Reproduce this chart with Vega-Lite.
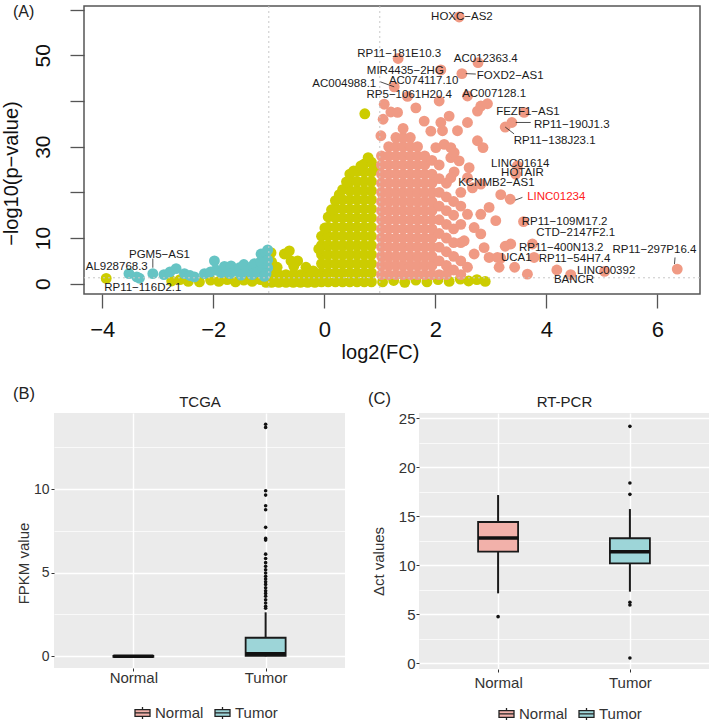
{
  "$schema": "https://vega.github.io/schema/vega-lite/v6.json",
  "padding": {"left": 0, "top": 2, "right": 0, "bottom": 0},
  "background": "white",
  "config": {
    "view": {"stroke": null},
    "font": "Liberation Sans",
    "title": {"font": "Liberation Sans", "fontWeight": "normal"},
    "axis": {"labelFont": "Liberation Sans", "titleFont": "Liberation Sans", "titleFontWeight": "normal"},
    "legend": {"labelFont": "Liberation Sans"}
  },
  "datasets": {
    "ns": [
      {"x":-0.05,"y":0.4},{"x":-0.05,"y":2.4},{"x":-0.05,"y":4.4},{"x":-0.05,"y":6.4},{"x":-0.05,"y":8.4},{"x":-0.05,"y":10.4},
      {"x":0.07,"y":0.4},{"x":0.07,"y":2.4},{"x":0.07,"y":4.4},{"x":0.07,"y":6.4},{"x":0.07,"y":8.4},{"x":0.07,"y":10.4},{"x":0.07,"y":12.4},{"x":0.07,"y":14.6},
      {"x":0.2,"y":0.4},{"x":0.2,"y":2.4},{"x":0.2,"y":4.4},{"x":0.2,"y":6.4},{"x":0.2,"y":8.4},{"x":0.2,"y":10.4},{"x":0.2,"y":12.4},{"x":0.2,"y":14.4},{"x":0.2,"y":16.4},{"x":0.2,"y":18.2},
      {"x":0.33,"y":0.4},{"x":0.33,"y":2.4},{"x":0.33,"y":4.4},{"x":0.33,"y":6.4},{"x":0.33,"y":8.4},{"x":0.33,"y":10.4},{"x":0.33,"y":12.4},{"x":0.33,"y":14.4},{"x":0.33,"y":16.4},{"x":0.33,"y":18.4},{"x":0.33,"y":20.6},
      {"x":0.46,"y":0.4},{"x":0.46,"y":2.4},{"x":0.46,"y":4.4},{"x":0.46,"y":6.4},{"x":0.46,"y":8.4},{"x":0.46,"y":10.4},{"x":0.46,"y":12.4},{"x":0.46,"y":14.4},{"x":0.46,"y":16.4},{"x":0.46,"y":18.4},{"x":0.46,"y":20.4},{"x":0.46,"y":22.4},{"x":0.46,"y":24},
      {"x":0.59,"y":0.4},{"x":0.59,"y":2.4},{"x":0.59,"y":4.4},{"x":0.59,"y":6.4},{"x":0.59,"y":8.4},{"x":0.59,"y":10.4},{"x":0.59,"y":12.4},{"x":0.59,"y":14.4},{"x":0.59,"y":16.4},{"x":0.59,"y":18.4},{"x":0.59,"y":20.4},{"x":0.59,"y":22.4},{"x":0.59,"y":24.6},
      {"x":0.72,"y":0.4},{"x":0.72,"y":2.4},{"x":0.72,"y":4.4},{"x":0.72,"y":6.4},{"x":0.72,"y":8.4},{"x":0.72,"y":10.4},{"x":0.72,"y":12.4},{"x":0.72,"y":14.4},{"x":0.72,"y":16.4},{"x":0.72,"y":18.4},{"x":0.72,"y":20.4},{"x":0.72,"y":22.4},{"x":0.72,"y":24.4},{"x":0.72,"y":26.2},
      {"x":0.85,"y":0.4},{"x":0.85,"y":2.4},{"x":0.85,"y":4.4},{"x":0.85,"y":6.4},{"x":0.85,"y":8.4},{"x":0.85,"y":10.4},{"x":0.85,"y":12.4},{"x":0.85,"y":14.4},{"x":0.85,"y":16.4},{"x":0.85,"y":18.4},{"x":0.85,"y":20.4},{"x":0.85,"y":22.4},{"x":0.85,"y":24.4},{"x":0.85,"y":26.6},
      {"x":-0.1,"y":7.6},{"x":0.01,"y":12.2},{"x":0.13,"y":16.2},{"x":0.27,"y":19.5},{"x":0.4,"y":22.3},{"x":0.53,"y":24.7},{"x":0.66,"y":25.8},{"x":0.79,"y":27.6},{"x":0.9,"y":25.2},
      {"x":0.73,"y":37.2},
      {"x":-0.95,"y":0.3},{"x":-0.82,"y":0.3},{"x":-0.69,"y":0.3},{"x":-0.56,"y":0.3},{"x":-0.43,"y":0.3},{"x":-0.3,"y":0.3},{"x":-0.17,"y":0.3},
      {"x":-0.95,"y":2.0},{"x":-0.82,"y":2.0},{"x":-0.69,"y":2.0},{"x":-0.56,"y":2.0},{"x":-0.43,"y":2.0},{"x":-0.3,"y":2.0},{"x":-0.17,"y":2.0},
      {"x":-0.96,"y":6.8},{"x":-0.95,"y":4.8},{"x":-0.72,"y":6.5},{"x":-0.63,"y":7.2},{"x":-0.6,"y":5.0},{"x":-0.48,"y":5.0},{"x":-0.55,"y":3.8},{"x":-0.33,"y":3.6},{"x":-0.2,"y":2.8},{"x":-0.85,"y":3.6},
      {"x":-3.93,"y":1.16},{"x":-2.75,"y":0.6},{"x":-2.6,"y":0.9},{"x":-2.45,"y":0.5},{"x":-2.25,"y":0.4},{"x":-2.05,"y":0.8},{"x":-1.9,"y":0.5},{"x":-1.75,"y":0.9},{"x":-1.6,"y":0.4},{"x":-1.45,"y":0.8},{"x":-1.3,"y":0.5},{"x":-1.15,"y":0.9},{"x":-1.05,"y":0.3},
      {"x":1.05,"y":0.4},{"x":1.25,"y":0.7},{"x":1.45,"y":0.3},{"x":1.65,"y":0.8},{"x":1.85,"y":0.4},{"x":2.05,"y":0.9},{"x":2.25,"y":0.5},{"x":2.45,"y":1.0},{"x":2.6,"y":0.6},{"x":2.75,"y":0.9},{"x":2.9,"y":0.5}
    ],
    "down": [
      {"x":-3.52,"y":2.2},{"x":-3.38,"y":1.5},{"x":-3.33,"y":1.2},{"x":-3.09,"y":2.2},{"x":-2.89,"y":2.0},{"x":-2.78,"y":2.6},{"x":-2.67,"y":3.3},{"x":-2.52,"y":2.2},{"x":-2.42,"y":1.8},{"x":-2.34,"y":1.5},{"x":-2.16,"y":2.2},{"x":-2.05,"y":2.6},{"x":-1.98,"y":5.0},{"x":-1.95,"y":3.0},{"x":-1.86,"y":2.4},{"x":-1.8,"y":3.8},{"x":-1.68,"y":3.9},{"x":-1.7,"y":2.2},{"x":-1.6,"y":2.8},{"x":-1.53,"y":3.5},{"x":-1.5,"y":1.9},{"x":-1.45,"y":4.2},{"x":-1.38,"y":2.8},{"x":-1.3,"y":2.0},{"x":-1.3,"y":3.8},{"x":-1.26,"y":4.4},{"x":-1.2,"y":2.6},{"x":-1.14,"y":6.5},{"x":-1.15,"y":4.8},{"x":-1.1,"y":3.2},{"x":-1.05,"y":6.8},{"x":-1.02,"y":3.5},{"x":-1.05,"y":2.2},{"x":-1.02,"y":5.2},{"x":-1.02,"y":7.4},{"x":-1.08,"y":1.6}
    ],
    "up": [
      {"x":1.03,"y":2},{"x":1.03,"y":4},{"x":1.03,"y":6},{"x":1.03,"y":8},{"x":1.03,"y":10},{"x":1.03,"y":12},{"x":1.03,"y":14},{"x":1.03,"y":16},{"x":1.03,"y":18},{"x":1.03,"y":20},{"x":1.03,"y":22},{"x":1.03,"y":24},{"x":1.03,"y":26},{"x":1.03,"y":28},
      {"x":1.16,"y":2},{"x":1.16,"y":4},{"x":1.16,"y":6},{"x":1.16,"y":8},{"x":1.16,"y":10},{"x":1.16,"y":12},{"x":1.16,"y":14},{"x":1.16,"y":16},{"x":1.16,"y":18},{"x":1.16,"y":20},{"x":1.16,"y":22},{"x":1.16,"y":24},{"x":1.16,"y":26},{"x":1.16,"y":28},{"x":1.16,"y":30},
      {"x":1.29,"y":2},{"x":1.29,"y":4},{"x":1.29,"y":6},{"x":1.29,"y":8},{"x":1.29,"y":10},{"x":1.29,"y":12},{"x":1.29,"y":14},{"x":1.29,"y":16},{"x":1.29,"y":18},{"x":1.29,"y":20},{"x":1.29,"y":22},{"x":1.29,"y":24},{"x":1.29,"y":26},{"x":1.29,"y":28},{"x":1.29,"y":30},{"x":1.29,"y":32},
      {"x":1.42,"y":2},{"x":1.42,"y":4},{"x":1.42,"y":6},{"x":1.42,"y":8},{"x":1.42,"y":10},{"x":1.42,"y":12},{"x":1.42,"y":14},{"x":1.42,"y":16},{"x":1.42,"y":18},{"x":1.42,"y":20},{"x":1.42,"y":22},{"x":1.42,"y":24},{"x":1.42,"y":26},{"x":1.42,"y":28},{"x":1.42,"y":30},{"x":1.42,"y":32},{"x":1.42,"y":34},
      {"x":1.55,"y":2},{"x":1.55,"y":4},{"x":1.55,"y":6},{"x":1.55,"y":8},{"x":1.55,"y":10},{"x":1.55,"y":12},{"x":1.55,"y":14},{"x":1.55,"y":16},{"x":1.55,"y":18},{"x":1.55,"y":20},{"x":1.55,"y":22},{"x":1.55,"y":24},{"x":1.55,"y":26},{"x":1.55,"y":28},{"x":1.55,"y":30},{"x":1.55,"y":32},
      {"x":1.68,"y":2},{"x":1.68,"y":4},{"x":1.68,"y":6},{"x":1.68,"y":8},{"x":1.68,"y":10},{"x":1.68,"y":12},{"x":1.68,"y":14},{"x":1.68,"y":16},{"x":1.68,"y":18},{"x":1.68,"y":20},{"x":1.68,"y":22},{"x":1.68,"y":24},{"x":1.68,"y":26},{"x":1.68,"y":28},{"x":1.68,"y":30},
      {"x":1.81,"y":2},{"x":1.81,"y":4},{"x":1.81,"y":6},{"x":1.81,"y":8},{"x":1.81,"y":10},{"x":1.81,"y":12},{"x":1.81,"y":14},{"x":1.81,"y":16},{"x":1.81,"y":18},{"x":1.81,"y":20},{"x":1.81,"y":22},{"x":1.81,"y":24},{"x":1.81,"y":26},{"x":1.81,"y":28},
      {"x":1.94,"y":2},{"x":1.94,"y":4},{"x":1.94,"y":6},{"x":1.94,"y":8},{"x":1.94,"y":10},{"x":1.94,"y":12},{"x":1.94,"y":14},{"x":1.94,"y":16},{"x":1.94,"y":18},{"x":1.94,"y":20},{"x":1.94,"y":22},{"x":1.94,"y":24},{"x":1.94,"y":27},
      {"x":2.07,"y":2},{"x":2.07,"y":5},{"x":2.07,"y":8},{"x":2.07,"y":11},{"x":2.07,"y":14},{"x":2.07,"y":17},{"x":2.07,"y":20},{"x":2.07,"y":23},{"x":2.07,"y":26},
      {"x":2.2,"y":2},{"x":2.2,"y":4},{"x":2.2,"y":7},{"x":2.2,"y":10},{"x":2.2,"y":13},{"x":2.2,"y":16},{"x":2.2,"y":19},{"x":2.2,"y":22},
      {"x":2.33,"y":3},{"x":2.33,"y":6},{"x":2.33,"y":9},{"x":2.33,"y":12},{"x":2.33,"y":15},{"x":2.33,"y":18},
      {"x":2.46,"y":2},{"x":2.46,"y":5},{"x":2.46,"y":9},{"x":2.46,"y":13},{"x":2.46,"y":17},
      {"x":1.08,"y":39.3},{"x":1.2,"y":37.6},{"x":1.65,"y":38.5},{"x":1.8,"y":35.6},{"x":2.07,"y":40},{"x":2.25,"y":36.7},{"x":1.92,"y":33.4},{"x":1.02,"y":32.4},{"x":1.32,"y":37.5},{"x":1.06,"y":36},
      {"x":2.13,"y":33.5},{"x":2.4,"y":33.5},{"x":2.16,"y":30.5},{"x":2.28,"y":29.8},{"x":2.01,"y":29.8},{"x":2.1,"y":35.3},{"x":2.76,"y":37.8},{"x":2.86,"y":29.8},{"x":2.76,"y":31.3},{"x":2.58,"y":35.3},
      {"x":2.28,"y":27.6},{"x":2.61,"y":25.4},{"x":2.34,"y":24.5},{"x":2.43,"y":26.9},{"x":2.34,"y":28.7},{"x":2.67,"y":21},{"x":2.58,"y":23.2},{"x":2.28,"y":23.2},{"x":3.09,"y":13.8},{"x":2.97,"y":16.7},
      {"x":2.82,"y":15.2},{"x":2.7,"y":12.3},{"x":2.82,"y":10.9},{"x":2.88,"y":7.9},{"x":2.97,"y":5.75},{"x":3.15,"y":3.6},{"x":2.7,"y":6.5},{"x":2.58,"y":3.6},{"x":2.46,"y":20},{"x":2.58,"y":15.2},{"x":2.52,"y":9.4},
      {"x":2.43,"y":58.4},{"x":1.33,"y":49.3},{"x":2.77,"y":48.4},{"x":2.1,"y":46.8},{"x":2.48,"y":46.0},{"x":1.26,"y":43.1},{"x":1.5,"y":41},{"x":2.58,"y":41.1},{"x":2.82,"y":38.9},{"x":2.94,"y":39.4},
      {"x":3.6,"y":37.5},{"x":3.38,"y":35.3},{"x":3.26,"y":34.3},{"x":3.48,"y":25.8},{"x":3.45,"y":24},{"x":2.82,"y":21.8},{"x":3.35,"y":18.5},{"x":3.18,"y":19.5},{"x":3.59,"y":13.6},{"x":3.75,"y":8.7},
      {"x":3.36,"y":8.7},{"x":3.26,"y":8.2},{"x":3.18,"y":5.6},{"x":3.12,"y":5.75},{"x":3.43,"y":3.6},{"x":3.78,"y":5.75},{"x":6.36,"y":3.2},{"x":5.05,"y":2.7},{"x":4.19,"y":3.0},{"x":4.44,"y":2.0},{"x":3.66,"y":2.1}
    ],
    "labels": [
      {"gene":"HOXC−AS2","lx":2.48,"ly":58.4},
      {"gene":"RP11−181E10.3","lx":1.35,"ly":50.2},
      {"gene":"AC012363.4","lx":2.91,"ly":49.1},
      {"gene":"MIR4435−2HG","lx":1.46,"ly":46.6},
      {"gene":"FOXD2−AS1","lx":3.35,"ly":45.5},
      {"gene":"AC074117.10","lx":1.79,"ly":44.4},
      {"gene":"AC004988.1","lx":0.36,"ly":43.7},
      {"gene":"RP5−1061H20.4","lx":1.53,"ly":41.3},
      {"gene":"AC007128.1","lx":3.06,"ly":41.5},
      {"gene":"FEZF1−AS1","lx":3.67,"ly":37.6},
      {"gene":"RP11−190J1.3","lx":4.46,"ly":34.8},
      {"gene":"RP11−138J23.1","lx":4.15,"ly":31.3},
      {"gene":"LINC01614","lx":3.53,"ly":26.3},
      {"gene":"HOTAIR","lx":3.57,"ly":24.2},
      {"gene":"KCNMB2−AS1","lx":3.1,"ly":22.1},
      {"gene":"LINC01234","lx":4.18,"ly":18.9},
      {"gene":"RP11−109M17.2","lx":4.33,"ly":13.6},
      {"gene":"CTD−2147F2.1","lx":4.53,"ly":11.0},
      {"gene":"RP11−400N13.2","lx":4.27,"ly":7.8},
      {"gene":"RP11−297P16.4","lx":5.95,"ly":7.4},
      {"gene":"UCA1","lx":3.46,"ly":5.6},
      {"gene":"RP11−54H7.4","lx":4.51,"ly":5.4},
      {"gene":"LINC00392","lx":5.08,"ly":2.7},
      {"gene":"BANCR","lx":4.5,"ly":0.8},
      {"gene":"PGM5−AS1","lx":-2.97,"ly":6.3},
      {"gene":"AL928768.3","lx":-3.74,"ly":3.6},
      {"gene":"RP11−116D2.1","lx":-3.27,"ly":-0.95}
    ],
    "leaders": [
      {"x":1.01,"y":44.2,"x2":1.26,"y2":43.1},
      {"x":2.55,"y":46.0,"x2":2.73,"y2":45.9},
      {"x":3.45,"y":35.3,"x2":3.72,"y2":35.3},
      {"x":3.26,"y":34.3,"x2":3.42,"y2":32.8},
      {"x":3.44,"y":18.3,"x2":3.57,"y2":18.9},
      {"x":6.31,"y":4.3,"x2":6.32,"y2":5.75},
      {"x":-3.09,"y":5.5,"x2":-3.09,"y2":3.5}
    ],
    "bstat": [
      {"group":"Normal","lo":-0.03,"q1":-0.03,"med":0,"q3":0.03,"hi":0.05},
      {"group":"Tumor","lo":0,"q1":0.02,"med":0.15,"q3":1.11,"hi":2.63}
    ],
    "bout": [
      {"group":"Tumor","v":13.88},{"group":"Tumor","v":13.69},{"group":"Tumor","v":9.9},{"group":"Tumor","v":9.64},{"group":"Tumor","v":9.0},{"group":"Tumor","v":8.76},{"group":"Tumor","v":7.71},{"group":"Tumor","v":7.05},{"group":"Tumor","v":6.95},{"group":"Tumor","v":6.11},{"group":"Tumor","v":5.85},{"group":"Tumor","v":5.6},{"group":"Tumor","v":5.38},{"group":"Tumor","v":5.18},{"group":"Tumor","v":4.98},{"group":"Tumor","v":4.78},{"group":"Tumor","v":4.62},{"group":"Tumor","v":4.46},{"group":"Tumor","v":4.3},{"group":"Tumor","v":4.1},{"group":"Tumor","v":3.92},{"group":"Tumor","v":3.76},{"group":"Tumor","v":3.59},{"group":"Tumor","v":3.38},{"group":"Tumor","v":3.19},{"group":"Tumor","v":2.99},{"group":"Tumor","v":2.87}
    ],
    "cstat": [
      {"group":"Normal","lo":7.14,"q1":11.39,"med":12.79,"q3":14.42,"hi":17.17},
      {"group":"Tumor","lo":7.31,"q1":10.2,"med":11.39,"q3":12.76,"hi":15.74}
    ],
    "cout": [
      {"group":"Normal","v":4.76},{"group":"Tumor","v":24.18},{"group":"Tumor","v":18.4},{"group":"Tumor","v":17.24},{"group":"Tumor","v":6.22},{"group":"Tumor","v":5.95},{"group":"Tumor","v":0.54}
    ]
  },
  "spacing": 22,
  "vconcat": [
    {
      "hconcat": [
        {"width": 30, "height": 10, "data": {"values": []}, "mark": "point"},
        {
          "width": 616,
          "height": 288,
          "view": {"stroke": "#555555", "strokeWidth": 1.5},
          "title": {"text": "(A)", "anchor": "start", "frame": "group", "dx": -71, "dy": 14, "offset": 0, "fontSize": 16, "fontWeight": "normal", "color": "#222222"},
          "resolve": {"axis": {"x": "independent", "y": "independent"}},
          "layer": [
            {
              "data": {"name": "ns"},
              "mark": {"type": "circle", "size": 118, "opacity": 1, "color": "#CCCC00"},
              "encoding": {
                "x": {"field": "x", "type": "quantitative", "scale": {"domain": [-4.33, 6.77], "nice": false, "zero": false},
                  "axis": {"values": [-4, -2, 0, 2, 4, 6], "domain": false, "grid": false, "tickSize": 14, "tickColor": "#555555", "tickWidth": 1.3,
                    "labelFontSize": 22, "labelColor": "#111111", "labelBaseline": "alphabetic", "labelPadding": 28,
                    "title": "log2(FC)", "titleFontSize": 20, "titleColor": "#111111", "titleX": 296, "titleY": 64, "titleBaseline": "alphabetic", "titleAlign": "center"}},
                "y": {"field": "y", "type": "quantitative", "scale": {"domain": [-2.25, 60.8], "nice": false, "zero": false},
                  "axis": {"values": [0, 10, 20, 30, 40, 50, 60], "labelExpr": "datum.value == 20 || datum.value == 40 || datum.value == 60 ? '' : datum.label",
                    "domain": false, "grid": false, "tickSize": 14, "tickColor": "#555555", "tickWidth": 1.3,
                    "labelFontSize": 21, "labelColor": "#111111", "labelAngle": -90, "labelAlign": "center", "labelBaseline": "alphabetic", "labelPadding": 21,
                    "title": "−log10(p−value)", "titleFontSize": 20, "titleColor": "#111111", "titleX": -63, "titleY": 167, "titleAngle": 270, "titleBaseline": "bottom", "titleAlign": "center"}}
              }
            },
            {
              "data": {"name": "down"},
              "mark": {"type": "circle", "size": 118, "opacity": 1, "color": "#66C4C4"},
              "encoding": {
                "x": {"field": "x", "type": "quantitative", "scale": {"domain": [-4.33, 6.77], "nice": false, "zero": false}, "axis": null},
                "y": {"field": "y", "type": "quantitative", "scale": {"domain": [-2.25, 60.8], "nice": false, "zero": false}, "axis": null}
              }
            },
            {
              "data": {"name": "up"},
              "mark": {"type": "circle", "size": 118, "opacity": 1, "color": "#F09A84"},
              "encoding": {
                "x": {"field": "x", "type": "quantitative", "scale": {"domain": [-4.33, 6.77], "nice": false, "zero": false}, "axis": null},
                "y": {"field": "y", "type": "quantitative", "scale": {"domain": [-2.25, 60.8], "nice": false, "zero": false}, "axis": null}
              }
            },
            {
              "data": {"values": [{"v": -1}, {"v": 1}]},
              "mark": {"type": "rule", "color": "#C8C8C8", "strokeDash": [2, 3], "strokeWidth": 1},
              "encoding": {
                "x": {"field": "v", "type": "quantitative", "scale": {"domain": [-4.33, 6.77], "nice": false, "zero": false}, "axis": null}
              }
            },
            {
              "data": {"values": [{"v": 1.3}]},
              "mark": {"type": "rule", "color": "#C8C8C8", "strokeDash": [2, 3], "strokeWidth": 1},
              "encoding": {
                "y": {"field": "v", "type": "quantitative", "scale": {"domain": [-2.25, 60.8], "nice": false, "zero": false}, "axis": null}
              }
            },
            {
              "data": {"name": "leaders"},
              "mark": {"type": "rule", "color": "#222222", "strokeWidth": 0.8},
              "encoding": {
                "x": {"field": "x", "type": "quantitative", "scale": {"domain": [-4.33, 6.77], "nice": false, "zero": false}, "axis": null},
                "y": {"field": "y", "type": "quantitative", "scale": {"domain": [-2.25, 60.8], "nice": false, "zero": false}, "axis": null},
                "x2": {"field": "x2"},
                "y2": {"field": "y2"}
              }
            },
            {
              "data": {"name": "labels"},
              "mark": {"type": "text", "font": "Liberation Sans", "fontSize": 11.5, "align": "center", "baseline": "middle"},
              "encoding": {
                "x": {"field": "lx", "type": "quantitative", "scale": {"domain": [-4.33, 6.77], "nice": false, "zero": false}, "axis": null},
                "y": {"field": "ly", "type": "quantitative", "scale": {"domain": [-2.25, 60.8], "nice": false, "zero": false}, "axis": null},
                "text": {"field": "gene"},
                "color": {"condition": {"test": "datum.gene === 'LINC01234'", "value": "#FF2020"}, "value": "#1A1A1A"}
              }
            }
          ]
        }
      ],
      "spacing": 0,
      "bounds": "flush"
    },
    {
      "hconcat": [
        {
          "width": 291,
          "height": 255,
          "view": {"fill": "#EBEBEB", "stroke": null},
          "title": {"text": "(B)", "anchor": "start", "frame": "group", "dx": -41, "dy": 8, "offset": 0, "fontSize": 16.5, "fontWeight": "normal", "color": "#222222"},
          "resolve": {"axis": {"x": "independent", "y": "independent"}},
          "layer": [
            {
              "data": {"name": "bstat"},
              "mark": {"type": "rule", "color": "#1A1A1A", "strokeWidth": 2},
              "encoding": {
                "x": {"field": "group", "type": "nominal", "scale": {"type": "point", "padding": 0.6, "domain": ["Normal", "Tumor"]},
                  "axis": {"orient": "bottom", "title": null, "labelAngle": 0, "domain": false, "tickSize": 3, "tickColor": "#333333", "grid": true, "gridColor": "#FFFFFF", "gridWidth": 1.4,
                    "labelFontSize": 15, "labelColor": "#333333", "labelPadding": 11, "labelBaseline": "alphabetic"}},
                "y": {"field": "lo", "type": "quantitative", "scale": {"domain": [-0.7, 14.55], "nice": false, "zero": false},
                  "axis": {"values": [0, 5, 10], "title": "FPKM value", "titleX": -26, "titleY": 150, "titleBaseline": "alphabetic", "titleAlign": "center", "titleAngle": 270,
                    "titleFontSize": 15, "titleColor": "#333333", "domain": false, "tickSize": 3, "tickColor": "#333333",
                    "labelFontSize": 14, "labelColor": "#333333", "labelPadding": 2, "grid": true, "gridColor": "#FFFFFF", "gridWidth": 1.4}},
                "y2": {"field": "hi"}
              }
            },
            {
              "data": {"name": "bstat"},
              "mark": {"type": "bar", "size": 40, "stroke": "#1A1A1A", "strokeWidth": 1.8},
              "encoding": {
                "x": {"field": "group", "type": "nominal", "scale": {"type": "point", "padding": 0.6, "domain": ["Normal", "Tumor"]},
                  "axis": {"orient": "top", "title": "TCGA", "labels": false, "ticks": false, "domain": false, "grid": false, "titlePadding": 4, "titleFontSize": 15, "titleColor": "#222222"}},
                "y": {"field": "q1", "type": "quantitative", "scale": {"domain": [-0.7, 14.55], "nice": false, "zero": false},
                  "axis": {"orient": "right", "values": [2.5, 7.5, 12.5], "labels": false, "ticks": false, "domain": false, "title": null, "grid": true, "gridColor": "#FFFFFF", "gridWidth": 0.7}},
                "y2": {"field": "q3"},
                "color": {"field": "group", "type": "nominal", "scale": {"domain": ["Normal", "Tumor"], "range": ["#F2B1AA", "#9DD5D8"]},
                  "legend": {"orient": "none", "legendX": 80, "legendY": 291, "direction": "horizontal", "title": null,
                    "symbolType": "M-1,-0.45H1V0.45H-1Z M-1,0H1 M0,-0.45V-0.8 M0,0.45V0.8", "symbolSize": 225, "symbolStrokeColor": "#222222", "symbolStrokeWidth": 1.3,
                    "labelFontSize": 15, "labelColor": "#333333", "labelOffset": 4, "columnPadding": 8, "padding": 0}}
              }
            },
            {
              "data": {"name": "bstat"},
              "mark": {"type": "tick", "size": 40, "thickness": 3.5, "color": "#111111", "opacity": 1},
              "encoding": {
                "x": {"field": "group", "type": "nominal", "scale": {"type": "point", "padding": 0.6, "domain": ["Normal", "Tumor"]}, "axis": null},
                "y": {"field": "med", "type": "quantitative", "scale": {"domain": [-0.7, 14.55], "nice": false, "zero": false}, "axis": null}
              }
            },
            {
              "data": {"name": "bout"},
              "mark": {"type": "circle", "size": 13, "color": "#111111", "opacity": 1},
              "encoding": {
                "x": {"field": "group", "type": "nominal", "scale": {"type": "point", "padding": 0.6, "domain": ["Normal", "Tumor"]}, "axis": null},
                "y": {"field": "v", "type": "quantitative", "scale": {"domain": [-0.7, 14.55], "nice": false, "zero": false}, "axis": null}
              }
            }
          ]
        },
        {
          "width": 290,
          "height": 256,
          "view": {"fill": "#EBEBEB", "stroke": null},
          "title": {"text": "(C)", "anchor": "start", "frame": "group", "dx": -51, "dy": 13, "offset": 0, "fontSize": 16.5, "fontWeight": "normal", "color": "#222222"},
          "resolve": {"axis": {"x": "independent", "y": "independent"}},
          "layer": [
            {
              "data": {"name": "cstat"},
              "mark": {"type": "rule", "color": "#1A1A1A", "strokeWidth": 2},
              "encoding": {
                "x": {"field": "group", "type": "nominal", "scale": {"type": "point", "padding": 0.6, "domain": ["Normal", "Tumor"]},
                  "axis": {"orient": "bottom", "title": null, "labelAngle": 0, "domain": false, "tickSize": 3, "tickColor": "#333333", "grid": true, "gridColor": "#FFFFFF", "gridWidth": 1.4,
                    "labelFontSize": 15, "labelColor": "#333333", "labelPadding": 15, "labelBaseline": "alphabetic"}},
                "y": {"field": "lo", "type": "quantitative", "scale": {"domain": [-0.58, 25.54], "nice": false, "zero": false},
                  "axis": {"values": [0, 5, 10, 15, 20, 25], "title": "Δct values", "titleX": -36, "titleY": 148, "titleBaseline": "alphabetic", "titleAlign": "center", "titleAngle": 270,
                    "titleFontSize": 15, "titleColor": "#333333", "domain": false, "tickSize": 3, "tickColor": "#333333",
                    "labelFontSize": 15, "labelColor": "#333333", "labelPadding": 1, "grid": true, "gridColor": "#FFFFFF", "gridWidth": 1.4}},
                "y2": {"field": "hi"}
              }
            },
            {
              "data": {"name": "cstat"},
              "mark": {"type": "bar", "size": 40, "stroke": "#1A1A1A", "strokeWidth": 1.8},
              "encoding": {
                "x": {"field": "group", "type": "nominal", "scale": {"type": "point", "padding": 0.6, "domain": ["Normal", "Tumor"]},
                  "axis": {"orient": "top", "title": "RT-PCR", "labels": false, "ticks": false, "domain": false, "grid": false, "titlePadding": 4, "titleFontSize": 15, "titleColor": "#222222"}},
                "y": {"field": "q1", "type": "quantitative", "scale": {"domain": [-0.58, 25.54], "nice": false, "zero": false},
                  "axis": {"orient": "right", "values": [2.5, 7.5, 12.5, 17.5, 22.5], "labels": false, "ticks": false, "domain": false, "title": null, "grid": true, "gridColor": "#FFFFFF", "gridWidth": 0.7}},
                "y2": {"field": "q3"},
                "color": {"field": "group", "type": "nominal", "scale": {"domain": ["Normal", "Tumor"], "range": ["#F2B1AA", "#9DD5D8"]},
                  "legend": {"orient": "none", "legendX": 79, "legendY": 292, "direction": "horizontal", "title": null,
                    "symbolType": "M-1,-0.45H1V0.45H-1Z M-1,0H1 M0,-0.45V-0.8 M0,0.45V0.8", "symbolSize": 225, "symbolStrokeColor": "#222222", "symbolStrokeWidth": 1.3,
                    "labelFontSize": 15, "labelColor": "#333333", "labelOffset": 4, "columnPadding": 8, "padding": 0}}
              }
            },
            {
              "data": {"name": "cstat"},
              "mark": {"type": "tick", "size": 40, "thickness": 3.5, "color": "#111111", "opacity": 1},
              "encoding": {
                "x": {"field": "group", "type": "nominal", "scale": {"type": "point", "padding": 0.6, "domain": ["Normal", "Tumor"]}, "axis": null},
                "y": {"field": "med", "type": "quantitative", "scale": {"domain": [-0.58, 25.54], "nice": false, "zero": false}, "axis": null}
              }
            },
            {
              "data": {"name": "cout"},
              "mark": {"type": "circle", "size": 13, "color": "#111111", "opacity": 1},
              "encoding": {
                "x": {"field": "group", "type": "nominal", "scale": {"type": "point", "padding": 0.6, "domain": ["Normal", "Tumor"]}, "axis": null},
                "y": {"field": "v", "type": "quantitative", "scale": {"domain": [-0.58, 25.54], "nice": false, "zero": false}, "axis": null}
              }
            }
          ]
        }
      ],
      "spacing": 74,
      "bounds": "flush",
      "resolve": {"scale": {"color": "independent"}, "legend": {"color": "independent"}}
    }
  ]
}
